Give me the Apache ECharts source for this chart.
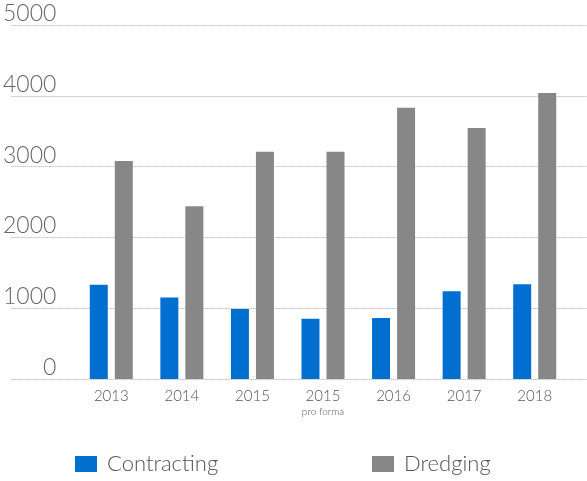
<!DOCTYPE html>
<html><head><meta charset="utf-8">
<script src="https://cdn.jsdelivr.net/npm/echarts@6/dist/echarts.min.js"></script>
<style>html,body{margin:0;padding:0;background:#fff}#c{width:587px;height:481px}</style>
</head><body><div id="c"></div>
<script>
const categories = ['2013','2014','2015','2015\npro forma','2016','2017','2018'];
const contracting = [1330,1150,990,850,860,1240,1340];
const dredging = [3080,2440,3210,3210,3830,3545,4040];
const yTicks = [0,1000,2000,3000,4000,5000];
const FONT = 'Lato';
const chart = echarts.init(document.getElementById('c'));
chart.setOption({
  animation:false,
  textStyle:{fontFamily:FONT},
  grid:[
    {left:7,right:0,top:25,bottom:102},
    {left:76,right:17,top:25,bottom:102}
  ],
  xAxis:[
    {gridIndex:0,type:'value',show:false,min:0,max:1},
    {gridIndex:1,type:'category',data:categories,
      axisLine:{show:false},axisTick:{show:false},
      axisLabel:{interval:0,margin:8,color:'#555',fontSize:15,fontWeight:300,fontFamily:FONT,
        formatter:function(v){const p=v.split('\n');return p.length>1?('{a|'+p[0]+'}\n{b|'+p[1]+'}'):('{a|'+v+'}');},
        rich:{a:{fontSize:15,color:'#555',fontWeight:300,fontFamily:FONT,lineHeight:19},
              b:{fontSize:10,color:'#555',fontWeight:300,fontFamily:FONT,lineHeight:12}}}}
  ],
  yAxis:[
    {gridIndex:0,type:'value',min:0,max:5000,interval:1000,
      axisLine:{show:false},axisTick:{show:false},
      splitLine:{show:true,lineStyle:{color:'#aaaaaa',type:'dotted',width:1}},
      axisLabel:{inside:true,margin:45,align:'right',verticalAlign:'bottom',padding:[0,0,0,0],
        formatter:function(v){return String(v);},
        color:'#666',fontSize:23,fontWeight:300,fontFamily:FONT}},
    {gridIndex:1,type:'value',min:0,max:5000,interval:1000,show:false,splitLine:{show:false}}
  ],
  legend:[
    {left:75,top:453,padding:0,itemWidth:22,itemHeight:16,icon:'rect',data:['Contracting'],itemGap:12,
      textStyle:{fontSize:22,color:'#555',fontWeight:300,fontFamily:FONT,padding:[0,0,0,5]}},
    {left:372,top:453,padding:0,itemWidth:22,itemHeight:16,icon:'rect',data:['Dredging'],
      textStyle:{fontSize:22,color:'#555',fontWeight:300,fontFamily:FONT,padding:[0,0,0,5]}}
  ],
  series:[
    {name:'Contracting',type:'bar',xAxisIndex:1,yAxisIndex:1,data:contracting,barWidth:18,barGap:'39%',itemStyle:{color:'#006FCF'}},
    {name:'Dredging',type:'bar',xAxisIndex:1,yAxisIndex:1,data:dredging,barWidth:18,barGap:'39%',itemStyle:{color:'#878787'}}
  ]
});
</script></body></html>
